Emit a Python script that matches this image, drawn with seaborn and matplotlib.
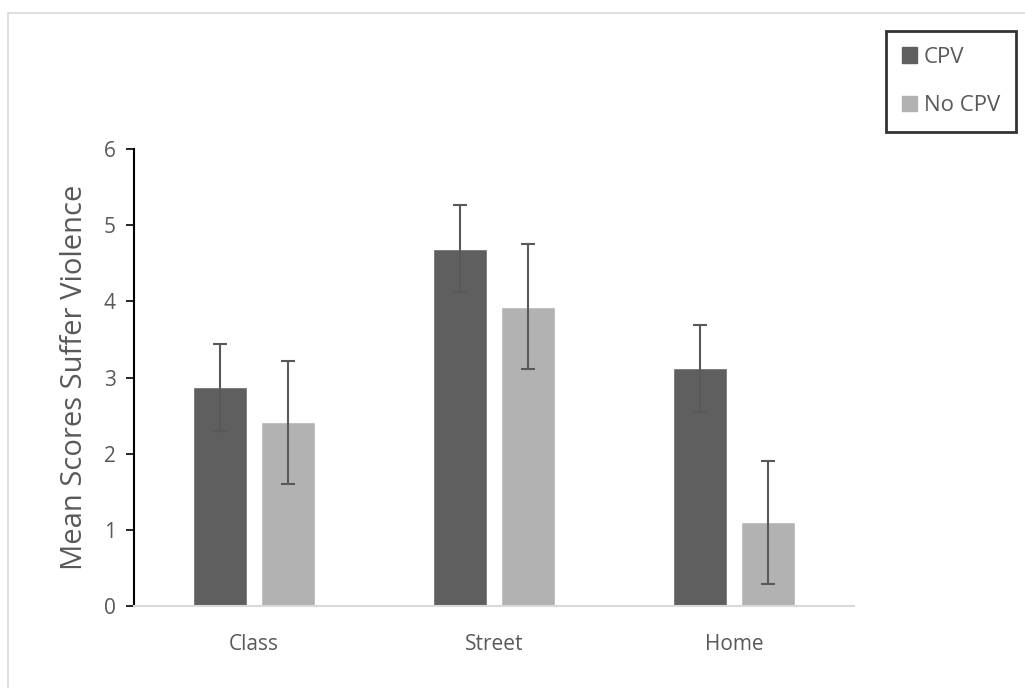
import numpy as np
import pandas as pd
import matplotlib
matplotlib.use("Agg")
import matplotlib.pyplot as plt
from matplotlib.patches import Patch, Rectangle
import seaborn as sns

# data
places = ["Class", "Street", "Home"]
groups = ["CPV", "No CPV"]
cpv_mean = [2.87, 4.69, 3.12]
nocpv_mean = [2.41, 3.93, 1.10]
cpv_err = [0.57, 0.57, 0.57]
nocpv_err = [0.81, 0.82, 0.81]

DARK = "#5f5f5f"
LIGHT = "#b2b2b2"
TEXT = "#595959"

sns.set_style("white")
plt.rcParams["font.family"] = ["Open Sans", "DejaVu Sans"]

df = pd.DataFrame({
    "place": places * 2,
    "group": [groups[0]] * 3 + [groups[1]] * 3,
    "score": cpv_mean + nocpv_mean,
})
errs = dict(zip(zip(df["place"], df["group"]), cpv_err + nocpv_err))

fig = plt.figure(figsize=(10.25, 6.88), dpi=100)
ax = fig.add_axes([0.1307, 0.1192, 0.7025, 0.6642])

sns.barplot(data=df, x="place", y="score", hue="group", order=places,
            hue_order=groups, palette=[DARK, LIGHT], width=0.567, gap=0.206,
            errorbar=None, ax=ax, legend=False, saturation=1)

# error bars on top of each bar
for cont, g in zip(ax.containers, groups):
    for bar, p in zip(cont, places):
        cx = bar.get_x() + bar.get_width() / 2
        ax.errorbar(cx, bar.get_height(), yerr=errs[(p, g)], fmt="none",
                    ecolor=TEXT, elinewidth=1.5, capsize=5, capthick=1.5)

ax.set_ylim(0, 6)
ax.set_xlim(-0.5, 2.5)
ax.set_yticks(range(7))
ax.set_xlabel("")
ax.set_ylabel("Mean Scores Suffer Violence", fontsize=21, color=TEXT, labelpad=11)
ax.tick_params(axis="y", left=True, length=6, width=1.2, color="black",
               labelsize=15, labelcolor=TEXT, pad=7)
ax.tick_params(axis="x", bottom=False, labelsize=15, labelcolor=TEXT, pad=17)
for s in ["top", "right"]:
    ax.spines[s].set_visible(False)
ax.spines["left"].set_color("black")
ax.spines["left"].set_linewidth(1.5)
ax.spines["bottom"].set_color("#d9d9d9")
ax.spines["bottom"].set_linewidth(1.5)

# chart area border
fig.patches.append(Rectangle((8 / 1025, -0.1), 1.2, (675 / 688) + 0.1,
                             transform=fig.transFigure, fill=False,
                             edgecolor="#d9d9d9", linewidth=1.2))

handles = [Patch(color=DARK, label="CPV"), Patch(color=LIGHT, label="No CPV")]
leg = fig.legend(handles=handles, loc="upper left",
                 bbox_to_anchor=(886 / 1025, 1 - 31 / 688), fontsize=16,
                 frameon=True, fancybox=False, handlelength=0.7,
                 handleheight=0.7, handletextpad=0.3, labelspacing=1.25,
                 borderpad=0.7, borderaxespad=0, labelcolor=TEXT)
leg.get_frame().set_edgecolor("black")
leg.get_frame().set_linewidth(2)

fig.savefig("out.png", dpi=100)
